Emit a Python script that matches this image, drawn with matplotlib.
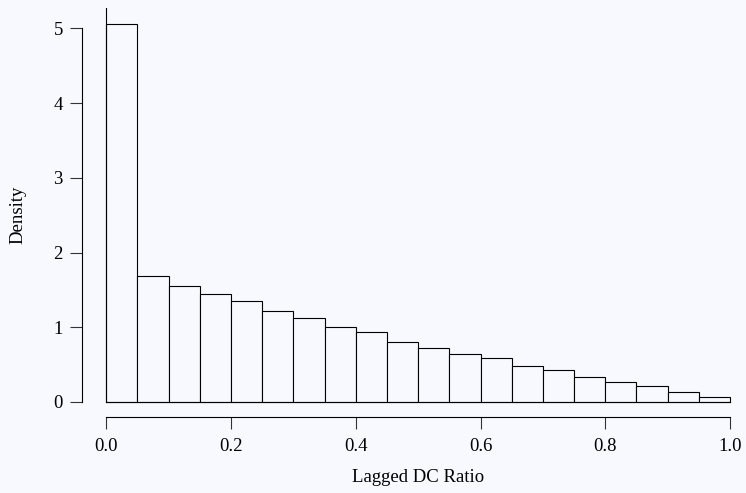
import numpy as np
import matplotlib.pyplot as plt

plt.rcParams['font.family'] = ['Liberation Serif', 'DejaVu Serif']

# histogram of lagged DC ratio, bin width 0.05
bin_edges = np.round(np.arange(0, 1.0001, 0.05), 2)
density = [5.06, 1.69, 1.55, 1.45, 1.355, 1.215, 1.12, 1.0, 0.93, 0.80,
           0.725, 0.645, 0.585, 0.485, 0.425, 0.33, 0.265, 0.21, 0.13, 0.065]
x_ticks = [0.0, 0.2, 0.4, 0.6, 0.8, 1.0]
x_tick_labels = ['0.0', '0.2', '0.4', '0.6', '0.8', '1.0']
y_ticks = [0, 1, 2, 3, 4, 5]

bg = '#F8F8FF'
fig = plt.figure(figsize=(7.46, 4.93), dpi=100, facecolor=bg)
ax = fig.add_axes([0.1095, 0.1548, 0.8825, 0.829])
ax.set_facecolor(bg)

ax.bar(bin_edges[:-1], density, width=0.05, align='edge',
       facecolor=bg, edgecolor='black', linewidth=0.8)
ax.plot([0, 1], [0, 0], color='black', lw=0.8)
ax.plot([0, 0], [0, 5.3], color='black', lw=0.8, clip_on=True)

ax.set_xlim(-0.0394, 1.016)
ax.set_ylim(-0.197, 5.274)

for s in ['top', 'right']:
    ax.spines[s].set_visible(False)
ax.spines['left'].set_bounds(0, 5)
ax.spines['bottom'].set_bounds(0, 1)
ax.spines['left'].set_linewidth(0.8)
ax.spines['bottom'].set_linewidth(0.8)

ax.set_xticks(x_ticks)
ax.set_xticklabels(x_tick_labels)
ax.set_yticks(y_ticks)
ax.tick_params(direction='out', length=8.6, width=0.8, labelsize=13.5, color='#333333')
ax.tick_params(axis='x', pad=7)
ax.tick_params(axis='y', pad=5)

fig.text((106.3 + 311.8) / 746, 1 - 477 / 493, 'Lagged DC Ratio', ha='center', va='center', fontsize=13.5)
fig.text(18 / 746, 1 - 215 / 493, 'Density', ha='center', va='center', rotation=90, fontsize=13.5)

fig.savefig('out.png', dpi=100, facecolor=bg)
